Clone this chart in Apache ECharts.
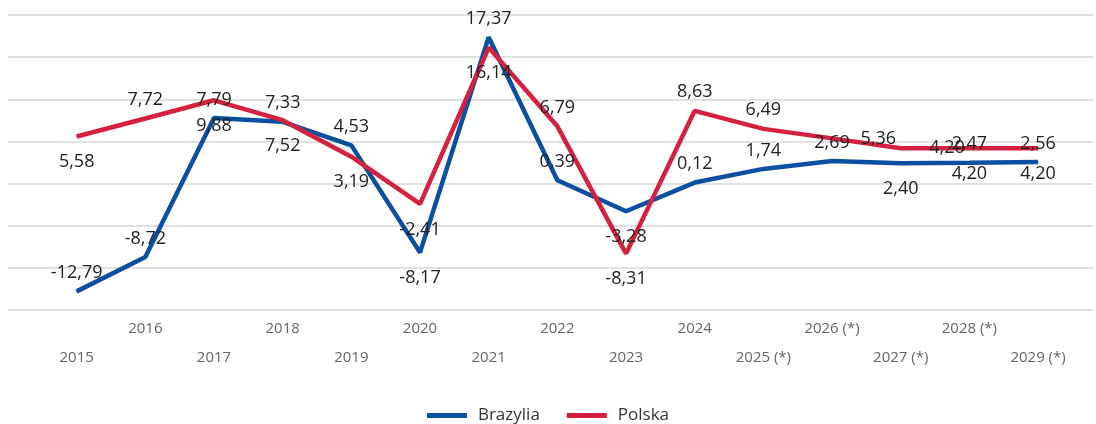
<!DOCTYPE html>
<html>
<head>
<meta charset="utf-8">
<script src="https://cdn.jsdelivr.net/npm/echarts@6/dist/echarts.min.js"></script>
<style>
    html, body { margin: 0; padding: 0; background: #fff; }
    #chart { width: 1096px; height: 424px; }
</style>
</head>
<body>
<div id="chart"></div>
<script>

    const years = ['2015', '2016', '2017', '2018', '2019', '2020', '2021', '2022',
        '2023', '2024', '2025 (*)', '2026 (*)', '2027 (*)', '2028 (*)', '2029 (*)'];

    const brazylia = [-12.79, -8.72, 7.79, 7.33, 4.53, -8.17, 17.37, 0.39,
        -3.28, 0.12, 1.74, 2.69, 2.40, 2.47, 2.56];

    const polska = [5.58, 7.72, 9.88, 7.52, 3.19, -2.41, 16.14, 6.79,
        -8.31, 8.63, 6.49, 5.36, 4.20, 4.20, 4.20];

    // where each value label sits
    const brazyliaLabelAt = ['top', 'top', 'top', 'top', 'top', 'bottom', 'top', 'top',
        'bottom', 'top', 'top', 'top', 'bottom', 'top', 'top'];
    const polskaLabelAt = ['bottom', 'top', 'bottom', 'bottom', 'bottom', 'bottom', 'bottom', 'top',
        'bottom', 'top', 'top', 'right', 'right', 'bottom', 'bottom'];

    const LABEL_GAP = { top: 9, bottom: 16, right: 28 };

    const FONT = '"Open Sans", "Noto Sans", sans-serif';

    function fmt(v) {
        return v.toFixed(2).replace('.', ',');
    }

    function points(values, placement) {
        return values.map((v, i) => ({
            value: [i, v],
            label: {
                position: placement[i],
                distance: LABEL_GAP[placement[i]]
            }
        }));
    }

    function lineSeries(name, color, values, placement) {
        return {
            name: name,
            type: 'line',
            animation: false,
            symbol: 'circle',
            symbolSize: 1,
            itemStyle: { color: color },
            lineStyle: { color: color, width: 4.5 },
            label: {
                show: true,
                color: '#222',
                fontFamily: FONT,
                fontSize: 18,
                formatter: p => fmt(p.value[1])
            },
            emphasis: { disabled: true },
            data: points(values, placement)
        };
    }

    const chart = echarts.init(document.getElementById('chart'));
    chart.setOption({
        backgroundColor: '#fff',
        textStyle: { fontFamily: FONT },
        grid: {
            left: 8,
            right: 0,
            top: 15,
            bottom: 114
        },
        legend: {
            left: 'center',
            top: 402,
            icon: 'rect',
            itemWidth: 40,
            itemHeight: 5,
            itemGap: 27,
            textStyle: {
                color: '#333',
                fontFamily: FONT,
                fontSize: 17,
                padding: [0, 0, 0, 6]
            },
            data: ['Brazylia', 'Polska']
        },
        xAxis: {
            type: 'value',
            min: -1,
            max: 14.8,
            interval: 1,
            axisLine: { show: false },
            axisTick: { show: false },
            splitLine: { show: false },
            axisLabel: {
                color: '#666',
                fontFamily: FONT,
                fontSize: 15,
                lineHeight: 29,
                margin: 4,
                formatter: v => {
                    const name = years[v];
                    if (!name) return '';
                    return v % 2 === 0 ? '\n' + name : name;
                }
            }
        },
        yAxis: {
            type: 'value',
            min: -15,
            max: 20,
            interval: 5,
            axisLine: { show: false },
            axisTick: { show: false },
            axisLabel: { show: false },
            splitLine: { lineStyle: { color: '#e0e0e0', width: 2 } }
        },
        series: [
            lineSeries('Brazylia', '#0b4fa3', brazylia, brazyliaLabelAt),
            lineSeries('Polska', '#d6203f', polska, polskaLabelAt)
        ]
    });

</script>
</body>
</html>
